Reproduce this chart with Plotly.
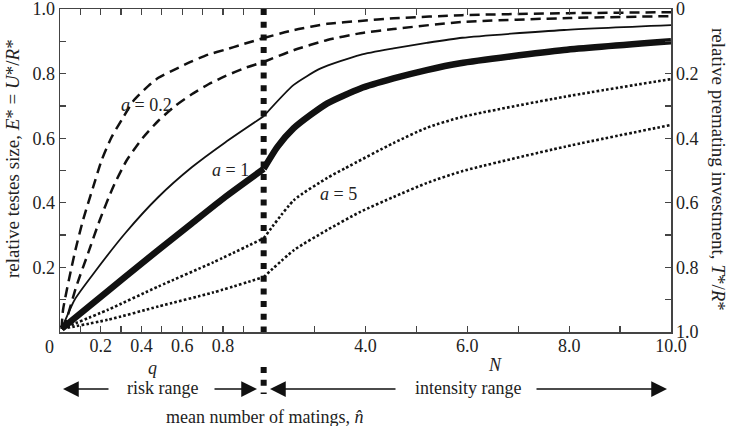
import plotly.graph_objects as go

# ---------------- data ----------------
# risk range: x = q (0..1); intensity range: x = N (2..10)
q_dash_hi = [0.008, 0.015, 0.072, 0.113, 0.163, 0.204, 0.253, 0.31, 0.36, 0.434, 0.483, 0.565, 0.647, 0.729, 0.811, 0.893, 1.0]
E_dash_hi_q = [0.01, 0.069, 0.244, 0.346, 0.449, 0.531, 0.603, 0.664, 0.715, 0.762, 0.787, 0.813, 0.838, 0.859, 0.874, 0.89, 0.91]
N_dash_hi = [2, 2.6, 3.25, 3.9, 4.55, 5.9, 8, 10]
E_dash_hi_N = [0.91, 0.935, 0.954, 0.963, 0.971, 0.981, 0.987, 0.99]

q_dash_lo = [0.008, 0.031, 0.08, 0.138, 0.195, 0.261, 0.327, 0.409, 0.483, 0.565, 0.647, 0.729, 0.811, 0.91, 1.0]
E_dash_lo_q = [0.01, 0.038, 0.141, 0.244, 0.346, 0.449, 0.531, 0.603, 0.654, 0.70, 0.736, 0.767, 0.792, 0.818, 0.836]
N_dash_lo = [2, 2.6, 3.25, 3.9, 4.55, 5.9, 8, 10]
E_dash_lo_N = [0.836, 0.873, 0.904, 0.925, 0.938, 0.96, 0.972, 0.978]

q_thin = [0.008, 0.072, 0.154, 0.319, 0.483, 0.647, 0.811, 1.0]
E_thin_q = [0.01, 0.10, 0.172, 0.305, 0.418, 0.51, 0.587, 0.668]
N_thin = [2, 2.59, 3.12, 3.9, 4.55, 5.2, 5.9, 7.9, 10]
E_thin_N = [0.668, 0.765, 0.816, 0.858, 0.878, 0.895, 0.911, 0.935, 0.95]

q_thick = [0.008, 0.154, 0.319, 0.483, 0.647, 0.811, 1.0]
E_thick_q = [0.01, 0.085, 0.17, 0.254, 0.336, 0.418, 0.505]
N_thick = [2, 2.27, 2.59, 2.92, 3.25, 3.9, 4.55, 5.2, 5.86, 7.9, 10]
E_thick_N = [0.505, 0.573, 0.631, 0.672, 0.708, 0.754, 0.785, 0.811, 0.832, 0.873, 0.90]

q_dot_hi = [0.01, 0.236, 0.483, 0.75, 1.0]
E_dot_hi_q = [0.01, 0.069, 0.141, 0.215, 0.29]
N_dot_hi = [2, 2.6, 3.25, 3.6, 4.55, 5.2, 5.9, 7.9, 10]
E_dot_hi_N = [0.29, 0.409, 0.477, 0.507, 0.585, 0.632, 0.666, 0.728, 0.783]

q_dot_lo = [0.012, 0.236, 0.483, 0.75, 1.0]
E_dot_lo_q = [0.01, 0.038, 0.079, 0.122, 0.17]
N_dot_lo = [2, 2.6, 3.25, 3.9, 4.55, 5.2, 5.9, 7.9, 10]
E_dot_lo_N = [0.17, 0.254, 0.316, 0.372, 0.418, 0.461, 0.498, 0.573, 0.641]

q_ticks = [0.1, 0.2, 0.3, 0.4, 0.5, 0.6, 0.7, 0.8, 0.9]
q_tick_labels = ["", "0.2", "", "0.4", "", "0.6", "", "0.8", ""]
N_ticks = [3, 4, 5, 6, 7, 8, 9, 10]
N_tick_labels = ["", "4.0", "", "6.0", "", "8.0", "", "10.0"]
y_ticks = [0, 0.1, 0.2, 0.3, 0.4, 0.5, 0.6, 0.7, 0.8, 0.9, 1.0]
y_left_labels = ["", "", "0.2", "", "0.4", "", "0.6", "", "0.8", "", "1.0"]
y_right_labels = ["0", "", "0.2", "", "0.4", "", "0.6", "", "0.8", "", "1.0"]

# ---------------- composite x scale ----------------
Q_SPAN = 4.0   # width of the risk range in axis units


def xq(qs):
    return [Q_SPAN * v for v in qs]


def xn(ns):
    return [n - 2 + Q_SPAN for n in ns]


INK = "#111111"
AX = "#444444"
TXT = "#222222"
FONT = "Liberation Serif"
W, H = 731, 426

# plot-area geometry on the page
PL, PR, PT, PB = 60, 671, 9, 332


def px(sx):
    return (sx - PL) / (PR - PL)


def py(sy):
    return (PB - sy) / (PB - PT)


fig = go.Figure()

styles = {
    "dash": dict(color=INK, width=2.5, dash="10px,6px"),
    "thin": dict(color=INK, width=1.8),
    "thick": dict(color=INK, width=6.5),
    "dot": dict(color=INK, width=2.6, dash="2.6px,2.2px"),
}

series = [
    (q_dash_hi, E_dash_hi_q, N_dash_hi, E_dash_hi_N, "dash"),
    (q_dash_lo, E_dash_lo_q, N_dash_lo, E_dash_lo_N, "dash"),
    (q_thin, E_thin_q, N_thin, E_thin_N, "thin"),
    (q_thick, E_thick_q, N_thick, E_thick_N, "thick"),
    (q_dot_hi, E_dot_hi_q, N_dot_hi, E_dot_hi_N, "dot"),
    (q_dot_lo, E_dot_lo_q, N_dot_lo, E_dot_lo_N, "dot"),
]
for qs, eq, ns, en, st in series:
    fig.add_trace(go.Scatter(x=xq(qs), y=eq, mode="lines",
                             line=dict(**styles[st], shape="spline", smoothing=0.6),
                             showlegend=False, hoverinfo="skip"))
    fig.add_trace(go.Scatter(x=xn(ns), y=en, mode="lines",
                             line=dict(**styles[st], shape="spline", smoothing=0.6),
                             showlegend=False, hoverinfo="skip"))

# invisible trace to activate the right axis
fig.add_trace(go.Scatter(x=[0], y=[0], yaxis="y2", mode="markers",
                         marker=dict(opacity=0), showlegend=False, hoverinfo="skip"))

tickfont = dict(family=FONT, size=18, color=TXT)
common = dict(showgrid=False, zeroline=False, automargin=False,
              showline=True, linecolor=AX, linewidth=1.5,
              ticks="inside", ticklen=6, tickcolor=AX, tickwidth=1.3,
              tickfont=tickfont, ticklabeloverflow="allow")

fig.update_layout(
    width=W, height=H,
    margin=dict(l=PL, r=W - PR, t=PT, b=H - PB, autoexpand=False),
    paper_bgcolor="white", plot_bgcolor="white",
    font=dict(family=FONT, size=18, color=TXT),
    xaxis=dict(range=[0, 12], mirror="ticks",
               tickvals=xq(q_ticks) + xn(N_ticks),
               ticktext=q_tick_labels + N_tick_labels,
               ticklabelstandoff=-3, **common),
    yaxis=dict(range=[0, 1], tickvals=y_ticks, ticktext=y_left_labels,
               ticklabelstandoff=0, **common),
    yaxis2=dict(range=[1, 0], overlaying="y", side="right",
                tickvals=y_ticks, ticktext=y_right_labels,
                ticklabelstandoff=0, **common),
)

# dividing line between the risk and intensity ranges
sq = dict(color=INK, width=6, dash="6px,6.7px")
fig.add_shape(type="line", xref="x", yref="paper", x0=Q_SPAN, x1=Q_SPAN, y0=1.0, y1=0.0,
              line=sq, layer="above")
fig.add_shape(type="line", xref="x", yref="paper", x0=Q_SPAN, x1=Q_SPAN,
              y0=py(367), y1=py(394), line=sq, layer="above")

ann = []


def txt(sx, sy, s, size=18, **kw):
    ann.append(dict(x=px(sx), y=py(sy), xref="paper", yref="paper", text=s,
                    showarrow=False, xanchor="center", yanchor="middle",
                    font=dict(family=FONT, size=size, color=TXT), **kw))


txt(49, 347, "0")
txt(152, 368, "<i>q</i>")
txt(495, 365, "<i>N</i>")
txt(162, 388, "risk range")
txt(468, 388, "intensity range")
txt(264, 417, "mean number of matings, <i>n̂</i>")

# curve labels
txt(146, 105, "<i>a</i> = 0.2")
txt(230, 170, "<i>a</i> = 1")
txt(338, 194, "<i>a</i> = 5")

# axis titles
txt(12, 159, "relative testes size, <i>E</i>* = <i>U</i>*/<i>R</i>*", size=19, textangle=-90)
txt(718, 169, "relative premating investment, <i>T</i>*/<i>R</i>*", size=19, textangle=90)

# arrows (tip, tail in page pixels)
for tip, tail in [(63, 110), (257, 213), (270, 397), (667, 535)]:
    ann.append(dict(x=px(tip), y=py(389), xref="paper", yref="paper",
                    ax=tail - tip, ay=0, axref="pixel", ayref="pixel",
                    text="", showarrow=True,
                    arrowhead=2, arrowsize=2.1, arrowwidth=1.5, arrowcolor=INK))

fig.update_layout(annotations=ann)

fig.write_html("out.html",
               config={"displayModeBar": False, "staticPlot": True},
               post_script="document.body.style.margin='0';document.body.style.overflow='hidden';")
